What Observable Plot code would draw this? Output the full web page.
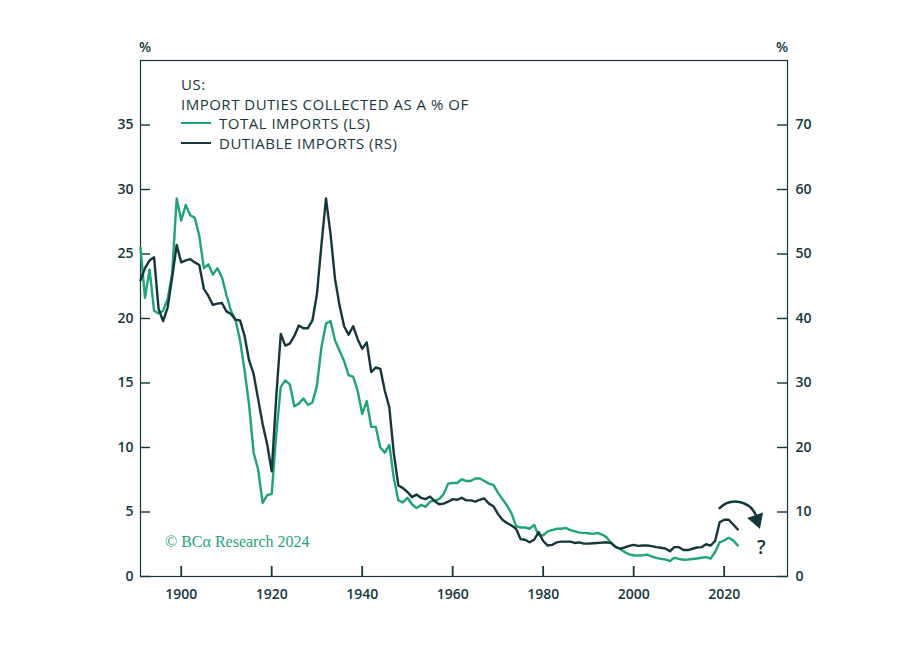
<!DOCTYPE html>
<html><head><meta charset="utf-8">
<script src="https://cdn.jsdelivr.net/npm/d3@7"></script>
<script src="https://cdn.jsdelivr.net/npm/@observablehq/plot@0.6"></script>
<style>
body{margin:0;background:#fff;}
#wrap{position:relative;width:911px;height:653px;}
.t{position:absolute;font-family:"Open Sans",sans-serif;color:#17373c;white-space:nowrap;}
.lg{left:181px;top:75px;font-size:15px;font-weight:500;line-height:19.5px;letter-spacing:0.5px;}
.sw{display:inline-block;width:30px;height:0;border-top:2.4px solid;vertical-align:middle;margin-right:8px;margin-top:-3px;}
.pct{font-size:14px;font-weight:600;top:37px;}
.cr{left:165px;top:533px;font-family:"Liberation Serif",serif;font-size:16px;color:#1fa37a;}
</style></head><body><div id="wrap"></div>
<script>
const GREEN = "#1fa37a", DARK = "#14373c";
const years = d3.range(1891, 2024);
const totalImports = [
25.5,21.6,23.8,20.6,20.4,20.6,21.5,23.5,29.3,27.6,
28.8,28.0,27.8,26.4,23.9,24.2,23.4,23.9,23.2,21.8,
20.6,19.9,18.3,16.0,13.3,9.6,8.3,5.7,6.3,6.4,
11.0,14.7,15.2,14.9,13.2,13.4,13.8,13.3,13.5,14.8,
17.8,19.6,19.8,18.3,17.5,16.7,15.6,15.5,14.4,12.6,
13.6,11.6,11.6,10.0,9.6,10.2,7.6,5.9,5.75,6.1,
5.6,5.3,5.55,5.4,5.8,5.9,6.0,6.4,7.2,7.25,
7.25,7.55,7.4,7.4,7.6,7.6,7.4,7.2,7.1,6.5,
6.0,5.5,4.9,3.9,3.8,3.8,3.7,4.0,3.2,3.2,
3.5,3.6,3.7,3.7,3.77,3.6,3.5,3.4,3.38,3.35,
3.3,3.38,3.25,3.05,2.6,2.3,2.14,1.9,1.72,1.65,
1.63,1.65,1.7,1.55,1.45,1.37,1.32,1.2,1.45,1.37,
1.3,1.32,1.36,1.4,1.45,1.5,1.38,1.9,2.65,2.79,
3.0,2.8,2.4];
const dutiableImports = [
45.9,47.8,49.0,49.5,41.5,39.6,41.7,46.4,51.4,48.7,
49.0,49.2,48.7,48.3,44.6,43.5,42.1,42.3,42.4,41.1,
40.7,39.8,39.7,37.3,33.5,31.4,27.5,23.6,20.5,16.3,
27.8,37.6,35.8,36.1,37.3,38.9,38.5,38.5,39.7,43.8,
51.5,58.6,53.1,46.1,42.0,38.8,37.5,38.8,36.8,35.3,
36.3,31.7,32.4,32.2,28.8,26.2,19.0,14.1,13.7,13.1,
12.3,12.7,12.2,12.0,12.4,11.7,11.2,11.3,11.6,12.0,
11.9,12.2,11.8,11.8,11.6,11.9,12.1,11.3,10.9,9.7,
8.8,8.3,7.9,7.4,5.8,5.7,5.3,5.7,6.9,5.5,
4.8,4.9,5.3,5.4,5.4,5.4,5.2,5.3,5.1,5.1,
5.16,5.2,5.25,5.3,5.2,4.6,4.3,4.5,4.75,4.9,
4.75,4.8,4.8,4.7,4.55,4.45,4.35,3.9,4.55,4.55,
4.1,4.1,4.3,4.5,4.55,5.0,4.8,5.5,8.4,8.8,
8.8,8.06,7.3];
const leftTicks = [0,5,10,15,20,25,30,35];
const rightTickLabels = [0,10,20,30,40,50,60,70];
const xTicks = [1900,1920,1940,1960,1980,2000,2020];
const arrowAnnot = [{x1: 2019.0, y1: 5.3, x2: 2026.95, y2: 4.8}];
const arrowHead = [{x: 2027.2, y: 4.4}];
const qAnnot = [{x: 2028.2, y: 2.2, text: "?"}];

const rows = years.map((year, i) => ({year, total: totalImports[i], dutiable: dutiableImports[i]}));

const W = 911, H = 653, ML = 140, MR = 124, MT = 60, MB = 77;
const FW = W - ML - MR, FH = H - MT - MB;

const chart = Plot.plot({
  width: W, height: H,
  marginLeft: ML, marginRight: MR, marginTop: MT, marginBottom: MB,
  style: {fontFamily: "Open Sans, sans-serif", fontSize: "14px", color: DARK, background: "#fff"},
  x: {domain: [1891, 2034], label: null},
  y: {domain: [0, 40], label: null},
  marks: [
    Plot.frame({stroke: DARK, strokeWidth: 1.2}),
    Plot.tickY(leftTicks, {y: d => d, insetRight: FW - 10, stroke: DARK, strokeWidth: 1.4}),
    Plot.tickY(leftTicks, {y: d => d, insetLeft: FW - 10, stroke: DARK, strokeWidth: 1.4}),
    Plot.tickX(xTicks, {x: d => d, insetTop: FH - 10, stroke: DARK, strokeWidth: 1.8}),
    Plot.axisY(leftTicks, {anchor: "left", tickSize: 0, tickPadding: 7, fontWeight: 600, fontSize: 14, tickFormat: d => String(d)}),
    Plot.axisY(leftTicks, {anchor: "right", tickSize: 0, tickPadding: 8, fontWeight: 600, fontSize: 14, tickFormat: d => String(rightTickLabels[leftTicks.indexOf(d)])}),
    Plot.axisX(xTicks, {tickSize: 0, tickPadding: 13, fontWeight: 600, fontSize: 14, tickFormat: d => String(d)}),
    Plot.line(rows, {x: "year", y: "total", stroke: GREEN, strokeWidth: 2.4}),
    Plot.line(rows, {x: "year", y: d => d.dutiable / 2, stroke: DARK, strokeWidth: 2.4}),
    Plot.arrow(arrowAnnot, {x1: "x1", y1: "y1", x2: "x2", y2: "y2", bend: 55, stroke: DARK, strokeWidth: 2.5, headLength: 0}),
    Plot.dot(arrowHead, {x: "x", y: "y", symbol: "triangle", r: 5.6, rotate: 161, fill: DARK, stroke: DARK, strokeWidth: 1}),
    Plot.text(qAnnot, {x: "x", y: "y", text: "text", fontSize: 19, fontWeight: 600, fill: DARK})
  ]
});
const wrap = document.getElementById("wrap");
wrap.appendChild(chart);
wrap.insertAdjacentHTML("beforeend", `
<div class="t pct" style="left:139px">%</div>
<div class="t pct" style="left:776px">%</div>
<div class="t lg">US:<br>IMPORT DUTIES COLLECTED AS A % OF<br><span class="sw" style="border-color:${GREEN}"></span>TOTAL IMPORTS (LS)<br><span class="sw" style="border-color:${DARK}"></span>DUTIABLE IMPORTS (RS)</div>
<div class="t cr">© BCα Research 2024</div>`);
</script></body></html>
